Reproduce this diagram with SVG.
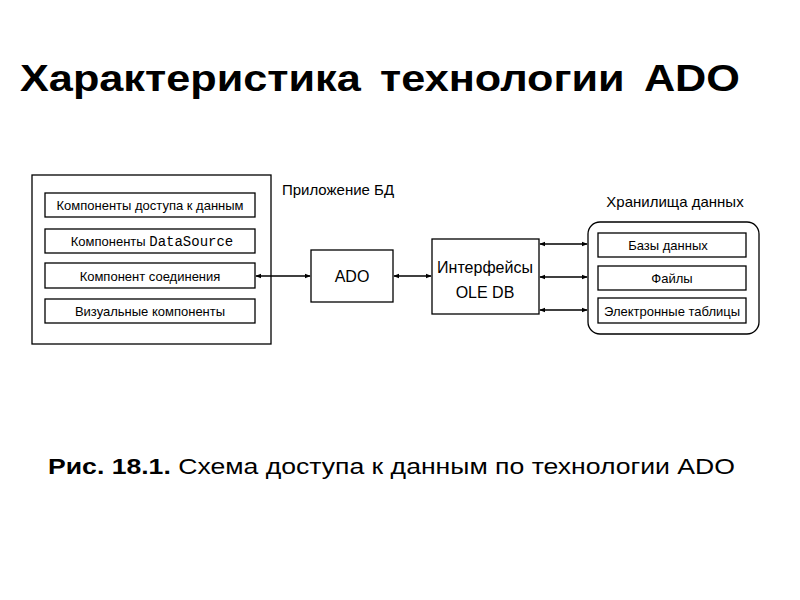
<svg xmlns="http://www.w3.org/2000/svg" width="800" height="600" viewBox="0 0 800 600">
<style>
.b{fill:#fff;stroke:#000;stroke-width:1.3}
.t{font-family:"Liberation Sans",Arial,sans-serif;font-size:13px;text-anchor:middle;fill:#000}
.c{stroke:#000;stroke-width:1.3;fill:none;marker-start:url(#a);marker-end:url(#a)}
</style>
<defs><marker id="a" viewBox="0 0 8 8" refX="7" refY="4" markerWidth="6" markerHeight="6" orient="auto-start-reverse" markerUnits="userSpaceOnUse"><path d="M0,1L8,4L0,7z" fill="#000"/></marker></defs>
<rect width="800" height="600" fill="#fff"/>
<text x="20" y="91" textLength="720" lengthAdjust="spacingAndGlyphs" style="font-family:'Liberation Sans',Arial,sans-serif;font-size:36px;font-weight:bold;word-spacing:6px">Характеристика технологии ADO</text>
<g id="app">
<rect class="b" x="32" y="175" width="239" height="169"/>
<text class="t" x="338" y="195" style="font-size:15px">Приложение БД</text>
</g>
<g id="n1"><rect class="b" x="45" y="193" width="210" height="24"/><text class="t" x="150" y="210">Компоненты доступа к данным</text></g>
<g id="n2"><rect class="b" x="45" y="229" width="210" height="24"/><text class="t" x="152" y="246">Компоненты <tspan style="font-family:'Liberation Mono',monospace;font-size:14px">DataSource</tspan></text></g>
<g id="n3"><rect class="b" x="45" y="263" width="210" height="25"/><text class="t" x="150" y="281">Компонент соединения</text></g>
<g id="n4"><rect class="b" x="45" y="299" width="210" height="24"/><text class="t" x="150" y="316">Визуальные компоненты</text></g>
<g id="ado"><rect class="b" x="311" y="250" width="82" height="52"/><text class="t" x="352" y="282" style="font-size:16px">ADO</text></g>
<g id="ole"><rect class="b" x="432" y="239" width="107" height="75"/><text class="t" x="485" y="273" style="font-size:16px">Интерфейсы</text><text class="t" x="485" y="298" style="font-size:16px">OLE DB</text></g>
<g id="store">
<rect class="b" x="588" y="222" width="171" height="112" rx="12"/>
<text class="t" x="675" y="207" style="font-size:15px">Хранилища данных</text>
</g>
<g id="s1"><rect class="b" x="598" y="233" width="148" height="24"/><text class="t" x="668" y="250">Базы данных</text></g>
<g id="s2"><rect class="b" x="598" y="266" width="148" height="24"/><text class="t" x="672" y="283">Файлы</text></g>
<g id="s3"><rect class="b" x="598" y="298" width="148" height="25"/><text class="t" x="672" y="316">Электронные таблицы</text></g>
<g id="connectors">
<line class="c" x1="256" y1="276" x2="310" y2="276"/>
<line class="c" x1="394" y1="276" x2="431" y2="276"/>
<line class="c" x1="540" y1="244" x2="587" y2="244"/>
<line class="c" x1="540" y1="277" x2="587" y2="277"/>
<line class="c" x1="540" y1="310" x2="587" y2="310"/>
</g>
<text x="48" y="474" textLength="687" lengthAdjust="spacingAndGlyphs" style="font-family:'Liberation Sans',Arial,sans-serif;font-size:22px"><tspan font-weight="bold">Рис. 18.1.</tspan> Схема доступа к данным по технологии ADO</text>
</svg>
